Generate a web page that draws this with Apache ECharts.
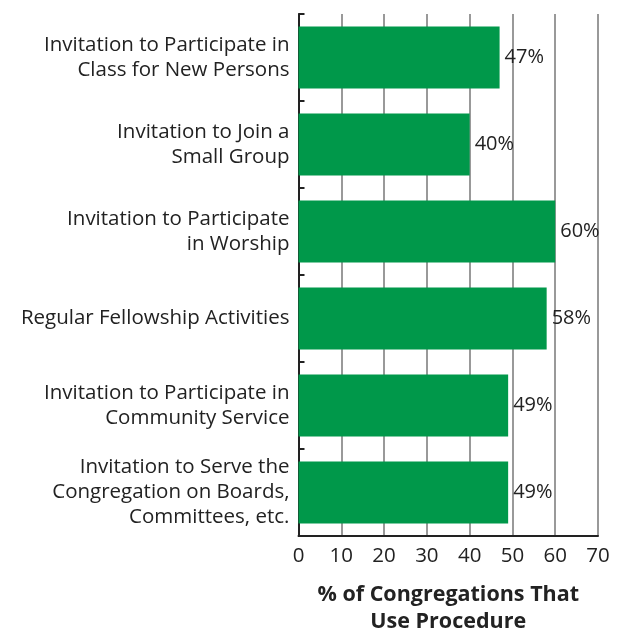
<!DOCTYPE html>
<html><head><meta charset="utf-8">
<script src="https://cdn.jsdelivr.net/npm/echarts@6/dist/echarts.min.js"></script>
<style>html,body{margin:0;padding:0;background:#fff}#c{width:621px;height:631px}</style>
</head><body><div id="c"></div>
<script>
const categories = [
  "Invitation to Participate in\nClass for New Persons",
  "Invitation to Join a\nSmall Group",
  "Invitation to Participate\nin Worship",
  "Regular Fellowship Activities",
  "Invitation to Participate in\nCommunity Service",
  "Invitation to Serve the\nCongregation on Boards,\nCommittees, etc."
];
const values = [47, 40, 60, 58, 49, 49];
const xTicks = [0, 10, 20, 30, 40, 50, 60, 70];
const axisTitle = "% of Congregations That\nUse Procedure";

const chart = echarts.init(document.getElementById('c'));
const font = '"Open Sans", Lato, sans-serif';
chart.setOption({
  animation: false,
  grid: {left: 298.5, right: 23, top: 14, bottom: 95, containLabel: false, outerBoundsMode: 'none'},
  xAxis: {
    type: 'value', min: xTicks[0], max: xTicks[xTicks.length-1], interval: 10,
    axisLine: {show: true, lineStyle: {color: '#222', width: 2}},
    axisTick: {show: false},
    axisLabel: {color: '#222', fontSize: 20.5, fontFamily: font, margin: 10},
    splitLine: {show: true, lineStyle: {color: '#999', width: 2}},
    name: axisTitle, nameLocation: 'middle', nameGap: 45,
    nameTextStyle: {color: '#222', fontSize: 21.5, fontWeight: 'bold', fontFamily: font, lineHeight: 27}
  },
  yAxis: {
    type: 'category', data: categories, inverse: true,
    axisLine: {show: true, lineStyle: {color: '#222', width: 2}},
    axisTick: {show: true, inside: true, length: 6, lineStyle: {color: '#222', width: 2}},
    axisLabel: {color: '#222', fontSize: 20.5, fontFamily: font, lineHeight: 25, align: 'right', margin: 9}
  },
  series: [{
    type: 'bar', data: values, barCategoryGap: '29%',
    itemStyle: {color: '#00984a'},
    label: {show: true, position: 'right', distance: 5, formatter: '{c}%', color: '#222', fontSize: 20, fontFamily: font}
  }]
});
</script></body></html>
